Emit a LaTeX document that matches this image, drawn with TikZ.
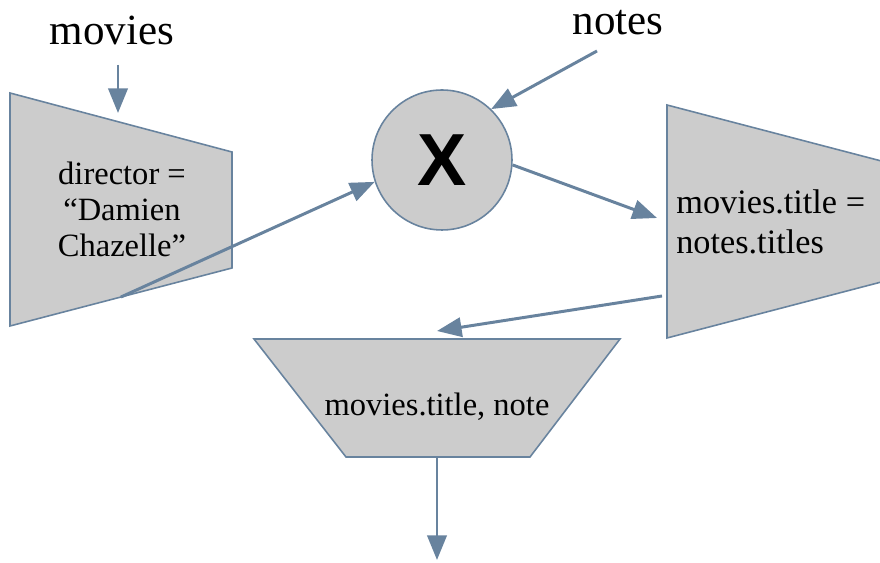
\documentclass[tikz,border=0pt]{standalone}
\usepackage{fontspec}
\setmainfont{Liberation Serif}
\newfontfamily\joinfont{Liberation Sans}
\usetikzlibrary{arrows.meta}

\definecolor{edgeblue}{RGB}{104,131,158}
\definecolor{opgray}{RGB}{204,204,204}

\begin{document}
\begin{tikzpicture}[
    x=0.02cm, y=-0.02cm,
    >={Triangle[length=14pt, width=11pt]},
    flow/.style={->, draw=edgeblue, fill=edgeblue, line width=1.7pt},
    opbox/.style={draw=edgeblue, fill=opgray, line width=0.9pt},
    optext/.style={inner sep=0pt, align=center, font=\rmfamily\fontsize{18.5}{20.5}\selectfont},
    relname/.style={inner sep=0pt, font=\rmfamily\fontsize{24.5}{28}\selectfont},
    joinop/.style={circle, draw=edgeblue, fill=opgray, line width=0.9pt, minimum size=2.8cm, inner sep=0pt, font=\joinfont\bfseries\fontsize{42}{42}\selectfont},
]
    \useasboundingbox (0,0) rectangle (880,563);

    % Relations
    \node[relname] (movies) at (112,30) {movies};
    \node[relname] (notes) at (618,23) {notes};

    % Selection
    \draw[opbox] (10,93) -- (232,152) -- (232,268) -- (10,326) -- cycle;
    \node[optext] (sel) at (122,209) {director =\\“Damien\\Chazelle”};

    % Join
    \node[joinop] (join) at (442,160) {X};

    % Join condition
    \draw[opbox] (667,105) -- (889,163) -- (889,280) -- (667,338) -- cycle;
    \node[optext, anchor=west, align=left, font=\rmfamily\fontsize{19.5}{22.5}\selectfont] (cond) at (676,222) {movies.title =\\notes.titles};

    % Projection
    \draw[opbox] (254,339) -- (620,339) -- (530,457) -- (346,457) -- cycle;
    \node[optext] (proj) at (437,407) {movies.title, note};

    % Arrow ends
    \coordinate (movies out) at (118,65);
    \coordinate (sel in) at (118,113);
    \coordinate (sel out) at (121,297);
    \coordinate (notes out) at (597,51);
    \coordinate (cond in) at (657,218);
    \coordinate (cond out) at (662,296);
    \coordinate (proj in) at (437,331);
    \coordinate (proj out) at (437,457);
    \coordinate (result) at (437,560);

    \draw[flow] (movies out) -- (sel in);
    \draw[flow] (sel out) -- (join.198);
    \draw[flow] (notes out) -- (join.46);
    \draw[flow] (join.-4) -- (cond in);
    \draw[flow] (cond out) -- (proj in);
    \draw[flow] (proj out) -- (result);
\end{tikzpicture}
\end{document}
